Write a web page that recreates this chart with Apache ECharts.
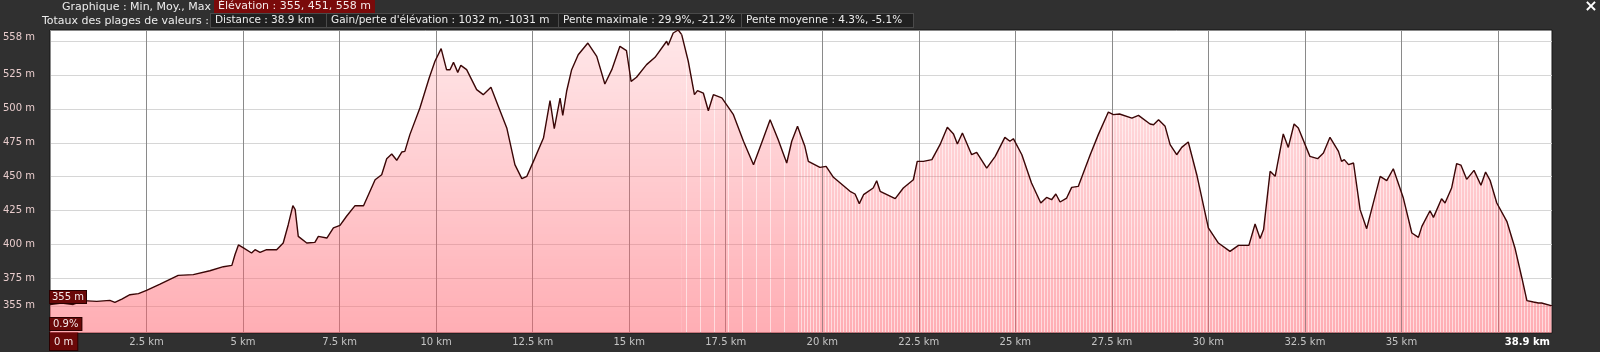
<!DOCTYPE html>
<html><head><meta charset="utf-8">
<script src="https://cdn.jsdelivr.net/npm/echarts@6/dist/echarts.min.js"></script>
<style>html,body{margin:0;padding:0;background:#303030;}#c{width:1600px;height:352px;}</style>
</head><body><div id="c"></div>
<script>
const distanceKm = [0,0.3,0.6,0.86,1.21,1.55,1.68,1.86,2.07,2.29,2.5,2.85,3.32,3.71,4.14,4.49,4.71,4.79,4.88,5.01,5.22,5.31,5.44,5.61,5.87,6.04,6.17,6.29,6.35,6.43,6.65,6.86,6.95,7.17,7.34,7.51,7.68,7.9,8.12,8.42,8.59,8.72,8.85,8.98,9.11,9.19,9.32,9.58,9.82,9.97,10.13,10.27,10.36,10.45,10.56,10.64,10.79,11.05,11.22,11.42,11.61,11.83,12.04,12.22,12.35,12.52,12.78,12.95,13.06,13.21,13.28,13.38,13.51,13.68,13.93,14.16,14.37,14.55,14.76,14.93,15.05,15.19,15.45,15.67,15.97,16.01,16.14,16.27,16.36,16.53,16.69,16.77,16.92,17.05,17.18,17.4,17.57,17.7,17.96,18.22,18.43,18.65,18.86,19.08,19.21,19.36,19.45,19.55,19.64,19.94,20.1,20.29,20.72,20.85,20.96,21.07,21.32,21.41,21.5,21.89,22.1,22.36,22.46,22.62,22.84,23.05,23.24,23.4,23.5,23.63,23.87,24,24.26,24.48,24.73,24.86,24.95,25.17,25.42,25.66,25.81,25.94,26.05,26.16,26.33,26.46,26.63,26.94,27.15,27.41,27.54,27.7,28.02,28.19,28.49,28.58,28.71,28.88,29.01,29.18,29.31,29.48,29.7,30,30.26,30.56,30.78,31.05,31.21,31.34,31.43,31.6,31.73,31.94,32.07,32.22,32.33,32.63,32.83,32.98,33.15,33.37,33.45,33.52,33.63,33.76,33.93,34.1,34.45,34.62,34.79,35.05,35.27,35.44,35.53,35.74,35.83,36.04,36.13,36.3,36.43,36.54,36.69,36.88,37.06,37.18,37.3,37.47,37.73,37.94,38.12,38.25,38.42,38.55,38.63,38.9];
const elevationM = [356,357,356,358.8,358.3,359,357.6,360,363.2,364,366.4,371,377.4,378,380.8,383.8,384.8,392.6,399.8,397.6,393.9,396.3,394.4,396.3,396.3,401.2,414.7,428.7,425.8,406.1,401.2,401.7,406.1,404.9,412.3,414.2,420.9,428.7,428.7,447.8,451.5,463.3,466.7,462.1,468.2,468.7,481,500.6,522.7,535,544.3,528.8,528.8,534.2,526.8,532,528.8,514.1,510.4,515.8,501.8,485.9,458.9,448.6,450.3,461.3,478.5,506,485.4,507.9,495.2,512.9,528.8,539.8,548.4,538.6,518.3,528.8,546,542.8,520.2,523.2,532.5,537.9,549.7,546.7,555.8,558,554.6,535,510.4,513.4,511.6,498.6,510.4,508,501.1,495.7,476.1,458.9,474.9,492,477.3,460.1,476.1,487.1,480,472.4,461.3,456.9,457.6,449.6,439.3,437.3,430.2,436.8,441.7,447.1,439.3,433.9,441.7,447.8,461.3,461.3,462.6,473.6,486.4,481.5,474.1,482.2,466.2,468,456.4,465,479,476.1,478,466.2,445.4,430.7,434.8,433.1,437.3,431.4,434.3,442.2,442.9,466.2,481,497.6,495.7,496.2,493.2,495.2,488.8,488.3,492,487.1,473.6,466.2,471.6,475.6,451.5,412.3,401.2,395.1,399.5,399.5,415.2,404.5,411.1,454,450.3,481.5,471.6,488.8,485.9,465,463.3,467.5,479,468.7,461.3,462.6,458.9,460.1,425.8,411.8,450.3,447.1,455.9,434.3,408.6,405.4,413.5,425,420.1,433.8,430.7,441.7,459.6,458.6,448.1,454.7,443.7,453.5,447.1,430.7,417.2,397.6,375.5,358.8,357.8,357.1,357.1,355];
const sparseStripesFromKm = 16.36;
const denseStripesFromKm = 19.45;
const yGridValues = [355,375,400,425,450,475,500,525,550];
const yLabelValues = [355,375,400,425,450,475,500,525,558];
const xGridValues = [0,2.5,5,7.5,10,12.5,15,17.5,20,22.5,25,27.5,30,32.5,35,37.5];
const xLabelValues = [0,2.5,5,7.5,10,12.5,15,17.5,20,22.5,25,27.5,30,32.5,35,38.9];
const headerRow1 = {label:'Graphique : Min, Moy., Max', value:'Élévation : 355, 451, 558 m'};
const headerRow2Label = 'Totaux des plages de valeurs :';
const headerRow2Boxes = ['Distance : 38.9 km', "Gain/perte d'élévation : 1032 m, -1031 m", 'Pente maximale : 29.9%, -21.2%', 'Pente moyenne : 4.3%, -5.1%'];
const minLabel = '355 m';
const startSlope = '0.9%';

const FONT = 'DejaVu Sans';
const chart = echarts.init(document.getElementById('c'), null, {renderer:'canvas'});
const allPoints = distanceKm.map((d,i)=>[d, elevationM[i]]);
const part1 = allPoints.filter(p=>p[0]<=sparseStripesFromKm);
const part2 = allPoints.filter(p=>p[0]>=sparseStripesFromKm && p[0]<=denseStripesFromKm);
const part3 = allPoints.filter(p=>p[0]>=denseStripesFromKm);

function makeTile(period){
  const c = document.createElement('canvas');
  c.width = period || 3; c.height = 352;
  const g = c.getContext('2d');
  for (let y=0; y<352; y++){
    const t = Math.min(1, Math.max(0, (y-30)/303));
    const a = 0.15 + t*(0.52-0.15);
    g.fillStyle = 'rgba(255,98,110,'+a.toFixed(3)+')';
    g.fillRect(period?1:0, y, c.width-(period?1:0), 1);
    if (period){
      g.fillStyle = 'rgba(255,98,110,'+(a*0.45).toFixed(3)+')';
      g.fillRect(0, y, 1, 1);
    }
  }
  return c;
}
const solidTile = makeTile(0);
const sparseTile = makeTile(14);
const denseTile = makeTile(3);

const mctx = document.createElement('canvas').getContext('2d');
const BOXFONT = '10.5px ' + FONT;
mctx.font = BOXFONT;
const refBoxWs = [116, 232, 172, 171];
const graphics = [
  {type:'text', style:{text:headerRow1.label, x:211, y:7, align:'right', verticalAlign:'middle', fill:'#ececec', font:'11px '+FONT}},
  {type:'text', style:{text:headerRow1.value, x:214, y:0, align:'left', verticalAlign:'top', fill:'#f4e8e8', font:'11px '+FONT, backgroundColor:'#7a0a0a', padding:[1,4,1,4]}},
  {type:'text', style:{text:headerRow2Label, x:209, y:21.5, align:'right', verticalAlign:'middle', fill:'#ececec', font:'11px '+FONT}},
];
let bx = 211;
headerRow2Boxes.forEach((t,i)=>{
  const w = Math.max(refBoxWs[i], Math.ceil(mctx.measureText(t).width) + 10);
  graphics.push({type:'text', style:{text:t, x:bx, y:14, align:'left', verticalAlign:'top', fill:'#ececec', font:BOXFONT, backgroundColor:'#202020', borderColor:'#4a4a4a', borderWidth:1, padding:[1,4,1,4], width:w-8}});
  bx += w;
});
graphics.push({type:'text', style:{text:'×', x:1591, y:7, align:'center', verticalAlign:'middle', fill:'#ffffff', font:'bold 16px '+FONT}});
graphics.push({type:'text', z:100, style:{text:minLabel, x:50, y:291, align:'left', verticalAlign:'top', fill:'#f4e8e8', font:'10px '+FONT, backgroundColor:'#6a0808', borderColor:'#2a0000', borderWidth:1, padding:[1,2,1,2]}});
graphics.push({type:'text', z:100, style:{text:startSlope, x:50, y:318, align:'left', verticalAlign:'top', fill:'#f4e8e8', font:'10px '+FONT, backgroundColor:'#6a0808', borderColor:'#2a0000', borderWidth:1, padding:[1,3,1,3]}});

const lineStyle = {color:'#3a0606', width:1.4};
const option = {
  backgroundColor:'#303030',
  animation:false,
  grid:{left:50, right:48, top:30, bottom:19, show:true, backgroundColor:'#ffffff', borderColor:'#151515', borderWidth:1},
  xAxis:{
    type:'value', min:0, max:38.9,
    axisLine:{show:false}, axisTick:{show:false, customValues:xGridValues},
    splitLine:{show:true, lineStyle:{color:'#8a8a8a', width:1}},
    axisLabel:{
      customValues:xLabelValues, margin:0, alignMinLabel:'left', alignMaxLabel:'right',
      formatter:v=>{
        if (v===0) return '{b|0 m}';
        if (v===38.9) return '{e|38.9 km}';
        return '{n|'+v+' km}';
      },
      rich:{
        n:{color:'#c4c4c4', fontFamily:FONT, fontSize:10, padding:[4,3,3,3]},
        b:{color:'#f4e8e8', fontFamily:FONT, fontSize:10, padding:[4,4,3,4], backgroundColor:'#6a0808', borderColor:'#2a0000', borderWidth:1},
        e:{color:'#ffffff', fontFamily:FONT, fontSize:10, fontWeight:'bold', padding:[4,2,3,3]}
      }
    }
  },
  yAxis:{
    type:'value', min:335, max:558,
    axisLine:{show:false}, axisTick:{show:false, customValues:yGridValues},
    splitLine:{show:true, lineStyle:{color:'#d6d6d6', width:1.2}},
    axisLabel:{
      customValues:yLabelValues, margin:15,
      formatter:v=> v===558 ? '{t|558 m}' : '{n|'+v+' m}',
      rich:{
        n:{color:'#e8cccc', fontFamily:FONT, fontSize:10},
        t:{color:'#e8cccc', fontFamily:FONT, fontSize:10, padding:[14,0,0,0]}
      }
    }
  },
  graphic:graphics,
  series:[
    {type:'line', data:part1, showSymbol:false, lineStyle:lineStyle,
     areaStyle:{color:{image:solidTile, repeat:'repeat'}, opacity:1}},
    {type:'line', data:part2, showSymbol:false, lineStyle:lineStyle,
     areaStyle:{color:{image:sparseTile, repeat:'repeat'}, opacity:1}},
    {type:'line', data:part3, showSymbol:false, lineStyle:lineStyle,
     areaStyle:{color:{image:denseTile, repeat:'repeat'}, opacity:1}}
  ]
};
chart.setOption(option);
</script></body></html>
